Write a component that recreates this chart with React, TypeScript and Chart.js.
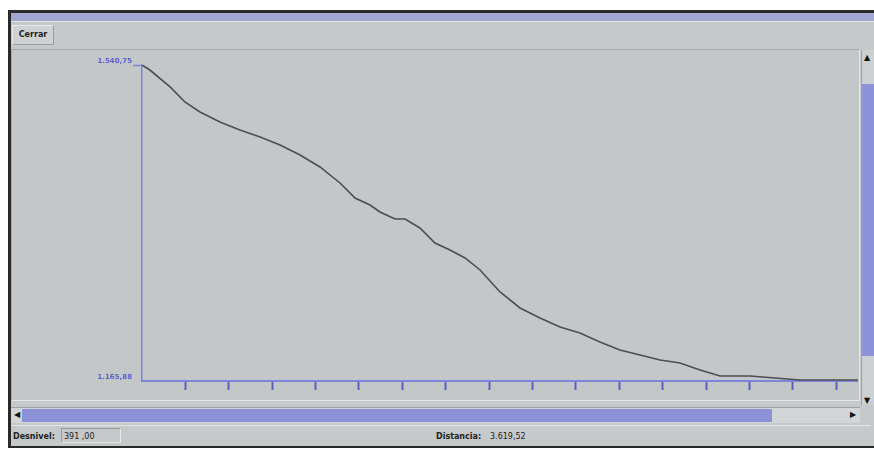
import React, { useEffect, useRef } from "react";
import { Chart, registerables } from "chart.js";

Chart.register(...registerables);

// Distance along the route (m) and elevation (m)
const DISTANCES = [
  0, 40, 142, 217, 293, 394, 495, 597, 698, 799, 900, 1001, 1077, 1153, 1203,
  1279, 1330, 1405, 1481, 1557, 1633, 1709, 1810, 1911, 2012, 2113, 2214, 2315,
  2416, 2518, 2619, 2720, 2821, 2922, 3073, 3200, 3326, 3478, 3619.52,
];
const ELEVATIONS = [
  1540.75, 1534.8, 1514.7, 1496.9, 1485.0, 1473.1, 1463.6, 1455.3, 1445.8,
  1434.0, 1419.8, 1400.8, 1383.0, 1374.7, 1366.4, 1358.1, 1358.1, 1347.4,
  1329.6, 1321.3, 1311.8, 1297.6, 1271.5, 1252.5, 1240.6, 1230.0, 1222.8,
  1212.2, 1202.7, 1196.7, 1190.8, 1187.3, 1179.0, 1171.8, 1171.8, 1169.5,
  1167.1, 1167.1, 1167.1,
];
const X_TICKS = [
  219.4, 438.8, 658.1, 877.5, 1096.9, 1316.3, 1535.6, 1755.0, 1974.4, 2193.8,
  2413.1, 2632.5, 2851.9, 3071.3, 3290.6, 3510.0,
];
const Y_TICKS = [1165.88, 1540.75];
const Y_LABELS = ["1.165,88", "1.540,75"];
const X_MAX = 3619.52;
const BUTTON_LABEL = "Cerrar";
const STATUS_LABELS = ["Desnivel:", "Distancia:"];
const STATUS_VALUES = ["391 ,00", "3.619,52"];

const BLUE = "#7e83dc";
const TICK_BLUE = "#5c61c0";
const GRAY = "#c6c9c9";

export default function App() {
  const ref = useRef<HTMLCanvasElement | null>(null);

  useEffect(() => {
    document.body.style.margin = "0";
    if (!ref.current) return;
    const chart = new Chart(ref.current, {
      type: "line",
      data: {
        datasets: [
          {
            data: DISTANCES.map((d, i) => ({ x: d, y: ELEVATIONS[i] })),
            borderColor: "#4b4f50",
            borderWidth: 1.6,
            pointRadius: 0,
            tension: 0,
            fill: false,
          },
        ],
      },
      options: {
        animation: false,
        responsive: false,
        maintainAspectRatio: false,
        layout: { padding: { top: 15, right: 0, left: 0, bottom: 0 } },
        plugins: { legend: { display: false }, tooltip: { enabled: false } },
        scales: {
          x: {
            type: "linear",
            min: 0,
            max: X_MAX,
            afterBuildTicks: (s: any) => {
              s.ticks = X_TICKS.map((v) => ({ value: v }));
            },
            afterFit: (s: any) => {
              s.height = 19;
            },
            grid: {
              display: true,
              drawOnChartArea: false,
              drawTicks: true,
              tickLength: 9,
              tickWidth: 2,
              tickColor: TICK_BLUE,
            },
            border: { display: true, color: BLUE, width: 2 },
            ticks: { display: false },
          },
          y: {
            type: "linear",
            min: Y_TICKS[0],
            max: Y_TICKS[1],
            afterBuildTicks: (s: any) => {
              s.ticks = Y_TICKS.map((v) => ({ value: v }));
            },
            afterFit: (s: any) => {
              s.width = 130;
            },
            grid: {
              display: true,
              drawOnChartArea: false,
              drawTicks: true,
              tickLength: 9,
              tickWidth: 1.5,
              tickColor: (c: any) => (c.index === 1 ? BLUE : "rgba(0,0,0,0)"),
            },
            border: { display: true, color: BLUE, width: 1.5 },
            ticks: {
              display: true,
              padding: 1,
              color: "#5a5fd0",
              font: { family: "DejaVu Sans", size: 7, weight: "bold" },
              callback: (_v: any, i: number) => [Y_LABELS[i], ""],
            },
          },
        },
      },
    });
    return () => chart.destroy();
  }, []);

  const abs = (s: React.CSSProperties): React.CSSProperties => ({
    position: "absolute",
    ...s,
  });
  const small: React.CSSProperties = {
    fontFamily: "DejaVu Sans",
    fontSize: 8,
    fontWeight: "bold",
    color: "#222",
  };

  return (
    <div style={{ position: "fixed", left: 0, top: 0, width: 874, height: 451, background: "#fff", overflow: "hidden" }}>
      {/* window frame */}
      <div style={abs({ left: 8, top: 10, width: 880, height: 438, background: "#2a2a2a" })} />
      <div style={abs({ left: 11, top: 13, width: 880, height: 433, background: GRAY })} />
      <div style={abs({ left: 11, top: 13, width: 880, height: 8, background: "#a3a7d4" })} />
      <div style={abs({ left: 11, top: 21, width: 880, height: 1, background: "#e2e4e4" })} />
      {/* Cerrar button */}
      <div
        style={abs({
          left: 12, top: 25, width: 42, height: 20, background: "#cfd2d2",
          border: "1px solid #e8eaea", borderRightColor: "#9a9d9d", borderBottomColor: "#9a9d9d",
          boxSizing: "border-box", ...small, lineHeight: "18px", textAlign: "center",
        })}
      >
        {BUTTON_LABEL}
      </div>
      {/* plot panel */}
      <div
        style={abs({
          left: 11, top: 49, width: 849, height: 352, background: "#c4c7c7",
          border: "1px solid #a6a9a9", borderRightColor: "#e6e8e8", borderBottomColor: "#e6e8e8",
          boxSizing: "border-box",
        })}
      />
      <canvas ref={ref} width={846} height={350} style={abs({ left: 12, top: 50, width: 846, height: 350 })} />
      {/* vertical scrollbar */}
      <div style={abs({ left: 861, top: 50, width: 13, height: 355, background: "#cdd0d0", borderLeft: "1px solid #a0a3a3" })} />
      <div style={abs({ left: 864, top: 53, fontSize: 8, color: "#111", fontFamily: "DejaVu Sans" })}>▲</div>
      <div style={abs({ left: 862, top: 84, width: 12, height: 272, background: "#8c91d8" })} />
      <div style={abs({ left: 864, top: 396, fontSize: 8, color: "#111", fontFamily: "DejaVu Sans" })}>▼</div>
      {/* horizontal scrollbar */}
      <div style={abs({ left: 11, top: 407, width: 849, height: 16, background: "#d3d6d6", borderTop: "1px solid #a0a3a3", boxSizing: "border-box" })} />
      <div style={abs({ left: 14, top: 410, fontSize: 8, color: "#111", fontFamily: "DejaVu Sans" })}>◀</div>
      <div style={abs({ left: 22, top: 409, width: 750, height: 13, background: "#8c91d8" })} />
      <div style={abs({ left: 850, top: 410, fontSize: 8, color: "#111", fontFamily: "DejaVu Sans" })}>▶</div>
      {/* status bar */}
      <div style={abs({ left: 11, top: 425, width: 860, height: 1, background: "#e4e6e6" })} />
      <div style={abs({ left: 13, top: 432, ...small })}>{STATUS_LABELS[0]}</div>
      <div style={abs({ left: 61, top: 428, width: 60, height: 15, border: "1px solid #e6e8e8", borderTopColor: "#9a9d9d", borderLeftColor: "#9a9d9d", boxSizing: "border-box" })} />
      <div style={abs({ left: 64, top: 432, ...small, fontWeight: "normal" })}>{STATUS_VALUES[0]}</div>
      <div style={abs({ left: 436, top: 432, ...small })}>{STATUS_LABELS[1]}</div>
      <div style={abs({ left: 490, top: 432, ...small, fontWeight: "normal" })}>{STATUS_VALUES[1]}</div>
    </div>
  );
}
